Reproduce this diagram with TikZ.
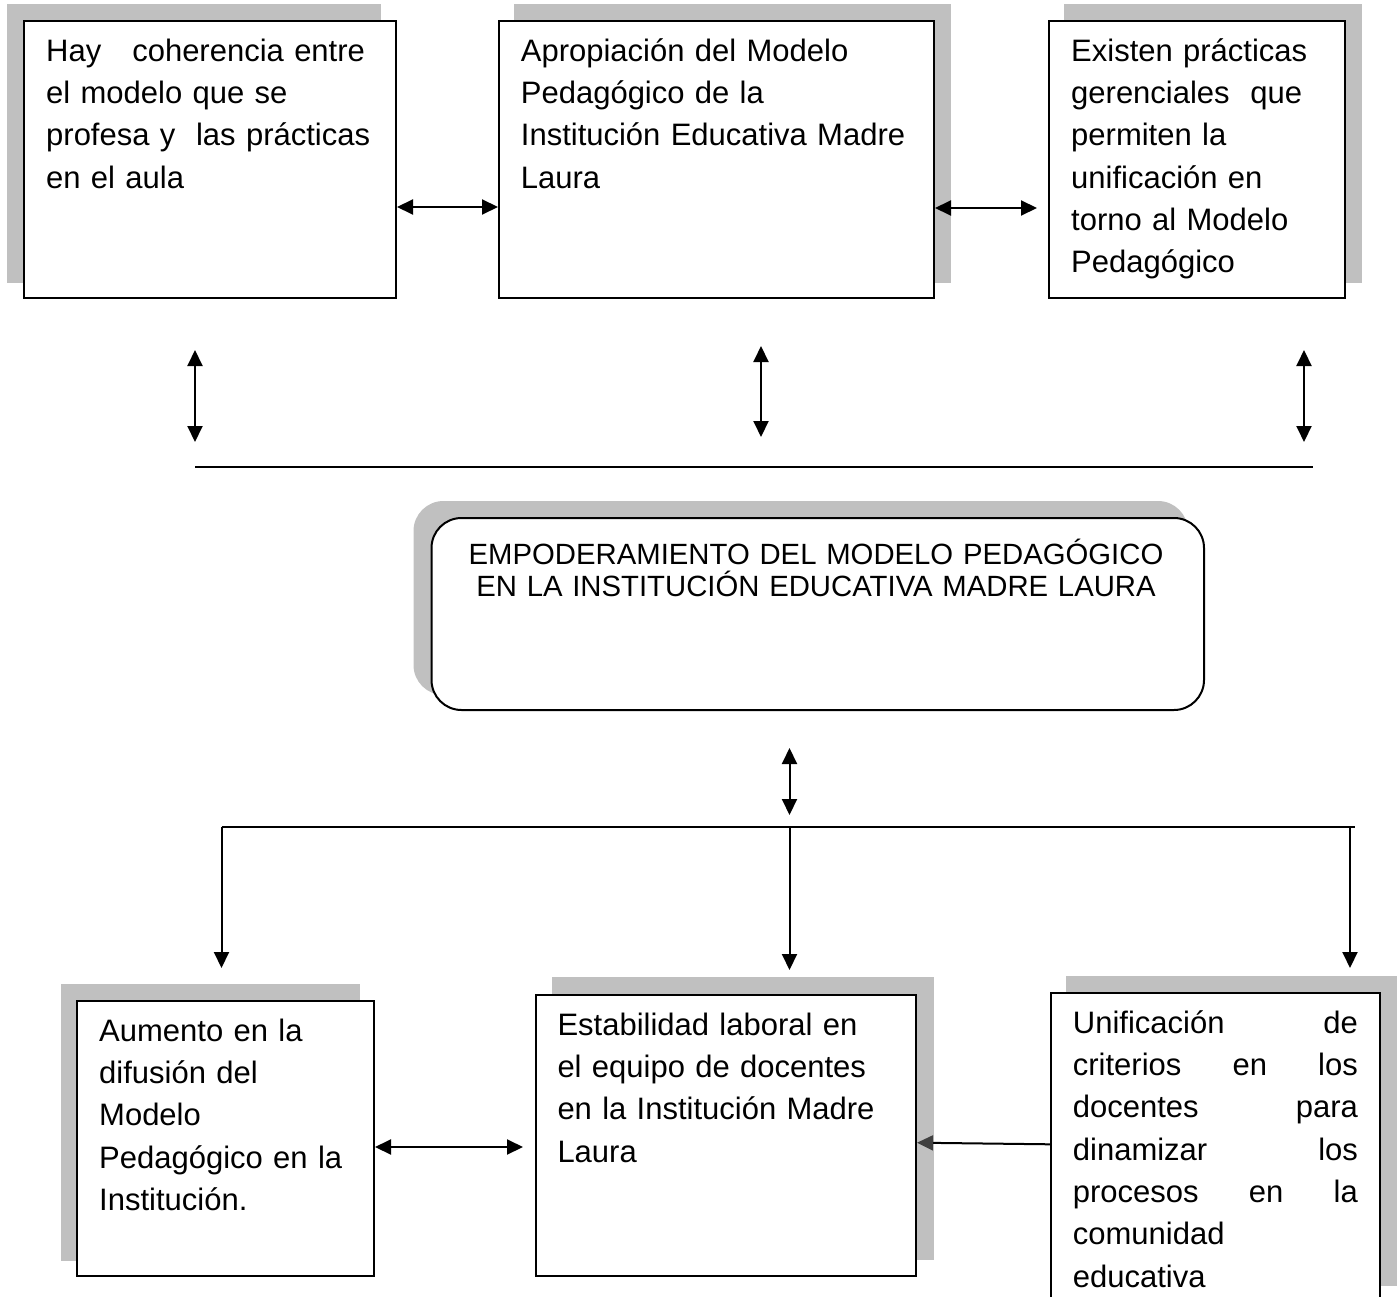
\documentclass[tikz,border=0pt]{standalone}
\usepackage{fontspec}
\setmainfont{Liberation Sans}
\usetikzlibrary{arrows.meta,backgrounds}
\definecolor{shd}{RGB}{192,192,192}
\definecolor{hd}{RGB}{64,64,64}
\newcommand{\firstline}{\vrule height 30pt depth 0pt width 0pt}
\begin{document}
\begin{tikzpicture}[x=1pt,y=-1pt,
  box/.style={draw=black,line width=2pt,fill=white,inner sep=0pt},
  txt/.style={anchor=north west,inner sep=0pt,align=left,font={\fontsize{31}{42.3}\selectfont\lineskiplimit=-100pt}},
  dbl/.style={line width=2pt,{Triangle[length=16pt,width=15pt]}-{Triangle[length=16pt,width=15pt]}},
  one/.style={line width=2pt,-{Triangle[length=16pt,width=15pt]}},
  ln/.style={line width=2pt}]
\useasboundingbox (0,0) rectangle (1400,1297);
% top boxes
\node[box,minimum width=372pt,minimum height=277pt] (t1) at (210,159.5) {};
\node[box,minimum width=435pt,minimum height=277pt] (t2) at (716.5,159.5) {};
\node[box,minimum width=296.5pt,minimum height=277pt] (t3) at (1196.75,159.5) {};
% centre box
\node[box,rounded corners=30pt,minimum width=772.5pt,minimum height=192pt] (c) at (817.75,614) {};
% bottom boxes
\node[box,minimum width=297pt,minimum height=275pt] (b1) at (225.5,1138) {};
\node[box,minimum width=380pt,minimum height=280.5pt] (b2) at (726,1135.25) {};
\node[box,minimum width=329pt,minimum height=308.5pt] (b3) at (1215.5,1146.75) {};
% shadows
\begin{scope}[on background layer]
\fill[shd] ([shift={(-16,-16)}]t1.south west) rectangle ([shift={(-16,-16)}]t1.north east);
\fill[shd] ([shift={(16,-16)}]t2.south west) rectangle ([shift={(16,-16)}]t2.north east);
\fill[shd] ([shift={(16,-16)}]t3.south west) rectangle ([shift={(16,-16)}]t3.north east);
\fill[shd,rounded corners=30pt] ([shift={(-17,-16)}]c.south west) rectangle ([shift={(-17,-16)}]c.north east);
\fill[shd] ([shift={(-15,-16)}]b1.south west) rectangle ([shift={(-15,-16)}]b1.north east);
\fill[shd] ([shift={(17,-17)}]b2.south west) rectangle ([shift={(17,-17)}]b2.north east);
\fill[shd] ([shift={(16,-16)}]b3.south west) rectangle ([shift={(16,-16)}]b3.north east);
\end{scope}
% texts (first baseline = y + 30)
\node[txt,text width=345pt] (t1t) at (46,31) {\firstline Hay\ \ \ coherencia entre\\el modelo que se\\profesa y\ \ las prácticas\\en el aula};
\node[txt,text width=410pt] (t2t) at (520.7,31) {\firstline Apropiación del Modelo\\Pedagógico de la\\Institución Educativa Madre\\Laura};
\node[txt,text width=272pt] (t3t) at (1071,31) {\firstline Existen prácticas\\gerenciales\ \ que\\permiten la\\unificación en\\torno al Modelo\\Pedagógico};
\node[anchor=north,inner sep=0pt,align=center,text width=760pt,font={\fontsize{29.3}{32}\selectfont\lineskiplimit=-100pt}] (ct) at (816,534) {\firstline EMPODERAMIENTO DEL MODELO PEDAGÓGICO\\EN LA INSTITUCIÓN EDUCATIVA MADRE LAURA};
\node[txt,text width=270pt] (b1t) at (99,1011) {\firstline Aumento en la\\difusión del\\Modelo\\Pedagógico en la\\Institución.};
\node[txt,text width=355pt] (b2t) at (557.3,1005) {\firstline Estabilidad laboral en\\el equipo de docentes\\en la Institución Madre\\Laura};
\node[txt,text width=285pt] (b3t) at (1072.7,1003) {\firstline Unificación\hfill de\\criterios\hfill en\hfill los\\docentes\hfill para\\dinamizar\hfill los\\procesos\hfill en\hfill la\\comunidad\\educativa};
% coordinates
\coordinate (a23) at (1037,208);
\coordinate (v1a) at (195,350); \coordinate (v1b) at (195,442);
\coordinate (v2a) at (761,346); \coordinate (v2b) at (761,437);
\coordinate (v3a) at (1304,350); \coordinate (v3b) at (1304,442);
\coordinate (l1a) at (195,467); \coordinate (l1b) at (1313,467);
\coordinate (ca) at (789.5,748); \coordinate (cb) at (789.5,815);
\coordinate (l2a) at (221.5,827); \coordinate (l2m) at (789.5,827); \coordinate (l2b) at (1355,827);
\coordinate (l2r) at (1350,827);
\coordinate (d1) at (221.5,968); \coordinate (d2) at (789.5,970); \coordinate (d3) at (1350,968);
\coordinate (a12) at (523,1147);
% connectors
\draw[dbl] (t1.east |- 0,207) -- (t2.west |- 0,207);
\draw[dbl] (t2.east |- 0,208) -- (a23);
\draw[dbl] (v1a) -- (v1b);
\draw[dbl] (v2a) -- (v2b);
\draw[dbl] (v3a) -- (v3b);
\draw[ln] (l1a) -- (l1b);
\draw[dbl] (ca) -- (cb);
\draw[ln] (l2a) -- (l2b);
\draw[one] (l2a) -- (d1);
\draw[one] (l2m) -- (d2);
\draw[one] (l2r) -- (d3);
\draw[dbl] (b1.east |- 0,1147) -- (a12);
\draw[line width=2pt,-{Triangle[length=16pt,width=15pt,color=hd]}] (b3.west |- 0,1144.3) -- (b2.east |- 0,1142.7);
\end{tikzpicture}
\end{document}
